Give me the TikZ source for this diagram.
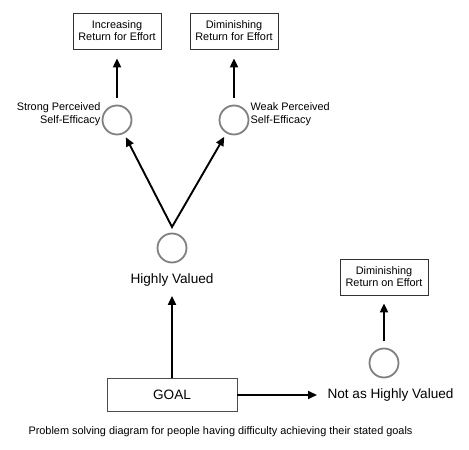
\documentclass[tikz,border=0pt]{standalone}
\usepackage{fontspec}
\setmainfont{Liberation Sans}
\usetikzlibrary{arrows.meta,positioning}

\begin{document}
\begin{tikzpicture}[
      x=1pt, y=1pt,
      box/.style={rectangle, draw=black!80, line width=0.8pt, align=center, minimum width=88pt, minimum height=36pt, font=\fontsize{10.9}{12}\selectfont},
      goalbox/.style={rectangle, draw=black!70, line width=0.8pt, minimum width=130pt, minimum height=33pt, font=\fontsize{13.6}{16}\selectfont},
      state/.style={circle, draw=gray, line width=1.8pt, minimum size=29pt, inner sep=0pt},
      note/.style={inner sep=1pt, font=\fontsize{10.9}{12.5}\selectfont},
      biglabel/.style={font=\fontsize{13.6}{16}\selectfont},
      arrow/.style={-{Triangle[length=9pt,width=8pt]}, line width=1.9pt},
      caption/.style={font=\fontsize{10.9}{12}\selectfont}
    ]
    \useasboundingbox (0,0) rectangle (469,450);

    % ============ GOAL ============
    \node[goalbox] (goal) at (172,55) {GOAL};
    \node[biglabel, anchor=west] (notval) at (324,55) {Not as Highly Valued};

    % Not as highly valued branch
    \node[state] (low) at (384,87) {};
    \node[box] (dimon) at (384,173) {Diminishing\\Return on Effort};

    % ============ HIGHLY VALUED ============
    \node[biglabel] (hvtext) at (172,170) {Highly Valued};
    \node[state] (high) at (172,202) {};
    \coordinate (fork) at (172,223);

    % Self-efficacy
    \node[state] (strong) at (117,330) {};
    \node[state] (weak) at (234,330) {};
    \node[note, left=0pt of strong, align=right, yshift=6pt] (stronglbl) {Strong Perceived\\Self-Efficacy};
    \node[note, right=0pt of weak, align=left, yshift=6pt] (weaklbl) {Weak Perceived\\Self-Efficacy};

    % ============ OUTCOMES ============
    \node[box] (incr) at (117,419) {Increasing\\Return for Effort};
    \node[box] (dimfor) at (234,419) {Diminishing\\Return for Effort};

    % Arrows
    \draw[arrow, shorten >=6pt] (goal) -- (hvtext);
    \draw[arrow, shorten >=7pt] (goal) -- (notval);
    \draw[arrow, shorten <=6.5pt, shorten >=8pt] (low) -- (dimon);
    \draw[{Triangle[length=9pt,width=8pt]}-{Triangle[length=9pt,width=8pt]}, line width=1.9pt, line join=miter, shorten <=4pt, shorten >=4pt] (strong) -- (fork) -- (weak);
    \draw[arrow, shorten <=7pt, shorten >=9pt] (strong) -- (incr);
    \draw[arrow, shorten <=7pt, shorten >=9pt] (weak) -- (dimfor);

    % Caption
    \node[caption] (cap) at (220.5,18) {Problem solving diagram for people having difficulty achieving their stated goals};

  \end{tikzpicture}
\end{document}
